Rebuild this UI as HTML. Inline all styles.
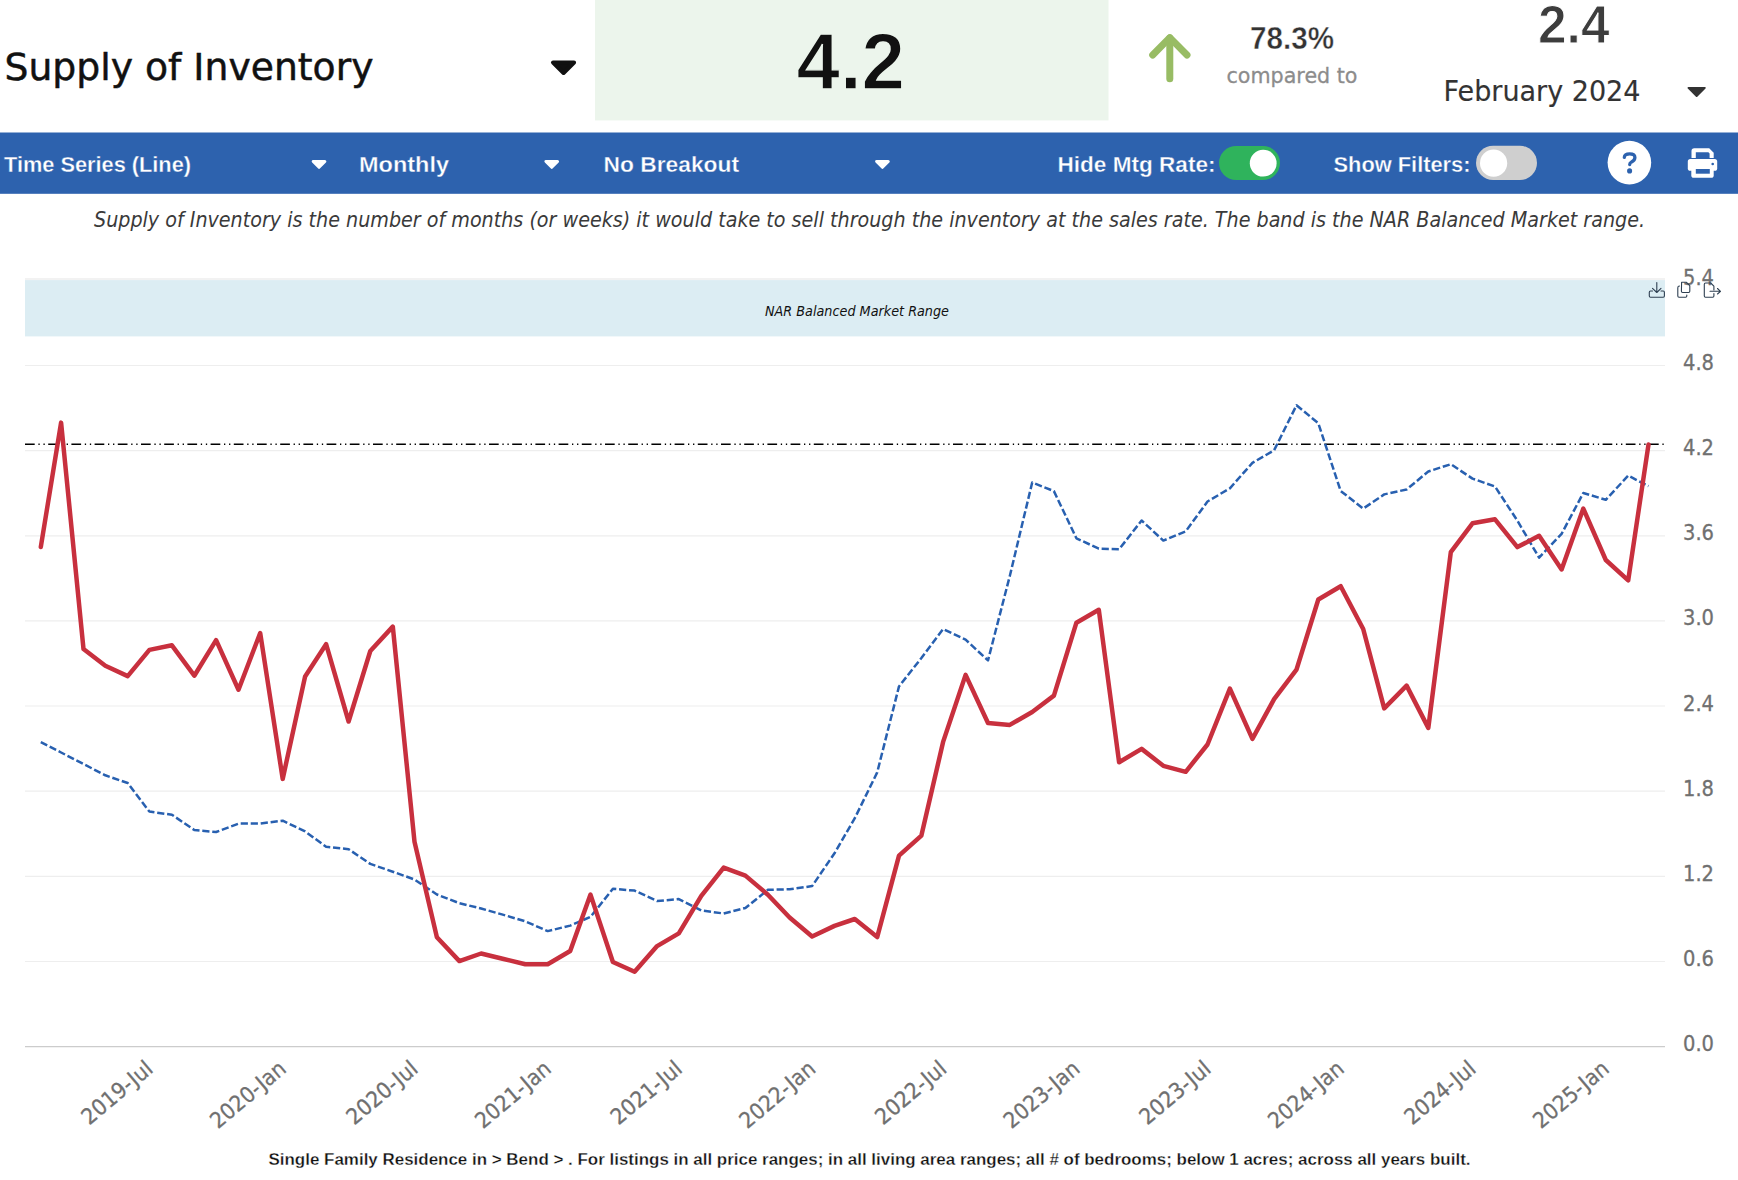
<!DOCTYPE html>
<html><head><meta charset="utf-8"><title>Supply of Inventory</title>
<style>html,body{margin:0;padding:0;background:#fff;width:1738px;height:1180px;overflow:hidden}svg{display:block;font-family:"Liberation Sans", "DejaVu Sans", sans-serif}</style>
</head><body>
<svg width="1738" height="1180" viewBox="0 0 1738 1180">
<rect width="1738" height="1180" fill="#fff"/>
<rect x="595" y="0" width="513.5" height="120.4" fill="#ecf5ec"/>
<text x="4.5" y="80" font-size="38" font-weight="400" font-style="normal" fill="#111" text-anchor="start" textLength="369" lengthAdjust="spacingAndGlyphs" font-family="'DejaVu Sans', sans-serif" stroke="#111" stroke-width="0.5">Supply of Inventory</text>
<path d="M553.05 62.45 L574.05 62.45 L563.55 72.95 Z" fill="#111" stroke="#111" stroke-width="4.10" stroke-linejoin="round"/>
<text x="796.5" y="89" font-size="79.5" font-weight="700" font-style="normal" fill="#111" text-anchor="start" textLength="108.5" lengthAdjust="spacingAndGlyphs" stroke="#ecf5ec" stroke-width="1.4">4.2</text>
<g stroke="#98bc64" stroke-width="7" stroke-linecap="round" stroke-linejoin="round" fill="none"><path d="M1169.8 38 V78.8"/><path d="M1152.7 55 L1169.8 37.6 L1187 55"/></g>
<text x="1250" y="49.2" font-size="31.5" font-weight="700" font-style="normal" fill="#333" text-anchor="start" textLength="84" lengthAdjust="spacingAndGlyphs" stroke="#fff" stroke-width="0.45">78.3%</text>
<text x="1226.5" y="82.6" font-size="22" font-weight="400" font-style="normal" fill="#8c8c8c" text-anchor="start" textLength="131" lengthAdjust="spacingAndGlyphs" font-family="'DejaVu Sans', sans-serif" stroke="#8c8c8c" stroke-width="0.3">compared to</text>
<text x="1538" y="42.5" font-size="53" font-weight="700" font-style="normal" fill="#3d3d3d" text-anchor="start" textLength="71.5" lengthAdjust="spacingAndGlyphs" stroke="#fff" stroke-width="1.0">2.4</text>
<text x="1443.5" y="100.6" font-size="27.5" font-weight="400" font-style="normal" fill="#333" text-anchor="start" textLength="197" lengthAdjust="spacingAndGlyphs" font-family="'DejaVu Sans', sans-serif" stroke="#333" stroke-width="0.15">February 2024</text>
<path d="M1688.45 87.85 L1704.85 87.85 L1696.65 96.05 Z" fill="#333" stroke="#333" stroke-width="1.90" stroke-linejoin="round"/>
<rect x="0" y="132.5" width="1738" height="61.3" fill="#2d62ae"/>
<text x="4" y="172" font-size="22.5" font-weight="700" font-style="normal" fill="#fff" text-anchor="start" textLength="187" lengthAdjust="spacingAndGlyphs" stroke="#2d62ae" stroke-width="0.35">Time Series (Line)</text>
<text x="359" y="172" font-size="22.5" font-weight="700" font-style="normal" fill="#fff" text-anchor="start" textLength="90" lengthAdjust="spacingAndGlyphs" stroke="#2d62ae" stroke-width="0.35">Monthly</text>
<text x="603.5" y="172" font-size="22.5" font-weight="700" font-style="normal" fill="#fff" text-anchor="start" textLength="135.5" lengthAdjust="spacingAndGlyphs" stroke="#2d62ae" stroke-width="0.35">No Breakout</text>
<text x="1057.5" y="172" font-size="22.5" font-weight="700" font-style="normal" fill="#fff" text-anchor="start" textLength="158" lengthAdjust="spacingAndGlyphs" stroke="#2d62ae" stroke-width="0.35">Hide Mtg Rate:</text>
<text x="1333.5" y="172" font-size="22.5" font-weight="700" font-style="normal" fill="#fff" text-anchor="start" textLength="137" lengthAdjust="spacingAndGlyphs" stroke="#2d62ae" stroke-width="0.35">Show Filters:</text>
<path d="M313.25 161.45 L324.85 161.45 L319.05 167.25 Z" fill="#fff" stroke="#fff" stroke-width="3.10" stroke-linejoin="round"/>
<path d="M545.95 161.45 L557.55 161.45 L551.75 167.25 Z" fill="#fff" stroke="#fff" stroke-width="3.10" stroke-linejoin="round"/>
<path d="M876.65 161.45 L888.25 161.45 L882.45 167.25 Z" fill="#fff" stroke="#fff" stroke-width="3.10" stroke-linejoin="round"/>
<rect x="1219" y="146" width="61" height="34" rx="17" fill="#2fb35c"/><circle cx="1263.2" cy="163.2" r="13.4" fill="#fff"/>
<rect x="1476" y="145.8" width="61" height="34.2" rx="17.1" fill="#cfcfcf"/><circle cx="1493.6" cy="163.2" r="13.6" fill="#fff"/>
<circle cx="1629.4" cy="162.6" r="21.8" fill="#fff"/>
<path d="M1624.3 157.3 Q1624.6 153.9 1629.7 153.9 Q1634.9 153.9 1634.9 157.5 Q1634.9 160.3 1631.6 161.9 Q1629.7 162.9 1629.7 164.5" fill="none" stroke="#2d62ae" stroke-width="3.3" stroke-linecap="round" stroke-linejoin="round"/><circle cx="1629.6" cy="170.9" r="2.55" fill="#2d62ae"/>
<path fill="#fff" fill-rule="evenodd" d="M1691.5 157.9 V151 Q1691.5 148.2 1694.3 148.2 H1709.2 L1713.7 152.7 V157.9 Z M1695.8 157.9 V152.2 H1708.4 L1709.6 153.4 V157.9 Z"/>
<rect x="1687.8" y="159.1" width="29.4" height="11.7" rx="2.6" fill="#fff"/><rect x="1691.3" y="165" width="22.4" height="12.8" rx="2.6" fill="#fff"/><rect x="1695.8" y="169" width="14" height="4.7" fill="#2d62ae"/><circle cx="1712.7" cy="164" r="1.3" fill="#2d62ae"/>
<text x="94" y="226.5" font-size="21" font-weight="400" font-style="italic" fill="#3a3a3a" text-anchor="start" textLength="1551" lengthAdjust="spacingAndGlyphs" font-family="'DejaVu Sans', sans-serif">Supply of Inventory is the number of months (or weeks) it would take to sell through the inventory at the sales rate. The band is the NAR Balanced Market range.</text>
<line x1="25" x2="1665" y1="961.5" y2="961.5" stroke="#eeeeee" stroke-width="1.2"/>
<line x1="25" x2="1665" y1="876.3" y2="876.3" stroke="#eeeeee" stroke-width="1.2"/>
<line x1="25" x2="1665" y1="791.2" y2="791.2" stroke="#eeeeee" stroke-width="1.2"/>
<line x1="25" x2="1665" y1="706.0" y2="706.0" stroke="#eeeeee" stroke-width="1.2"/>
<line x1="25" x2="1665" y1="620.9" y2="620.9" stroke="#eeeeee" stroke-width="1.2"/>
<line x1="25" x2="1665" y1="535.8" y2="535.8" stroke="#eeeeee" stroke-width="1.2"/>
<line x1="25" x2="1665" y1="450.6" y2="450.6" stroke="#eeeeee" stroke-width="1.2"/>
<line x1="25" x2="1665" y1="365.5" y2="365.5" stroke="#eeeeee" stroke-width="1.2"/>
<line x1="25" x2="1665" y1="1046.6" y2="1046.6" stroke="#cccccc" stroke-width="1.3"/>
<rect x="25" y="280.1" width="1640" height="56.3" fill="#dcedf3"/>
<line x1="25" x2="1665" y1="279" y2="279" stroke="#f2f2f2" stroke-width="2"/>
<text x="857" y="315.8" font-size="14.3" font-weight="400" font-style="italic" fill="#111" text-anchor="middle" textLength="184" lengthAdjust="spacingAndGlyphs" font-family="'DejaVu Sans', sans-serif">NAR Balanced Market Range</text>
<text x="1683" y="1051.1" font-size="20.5" font-weight="400" font-style="normal" fill="#707070" text-anchor="start" textLength="31" lengthAdjust="spacingAndGlyphs" font-family="'DejaVu Sans', sans-serif" stroke="#707070" stroke-width="0.3">0.0</text>
<text x="1683" y="966.0" font-size="20.5" font-weight="400" font-style="normal" fill="#707070" text-anchor="start" textLength="31" lengthAdjust="spacingAndGlyphs" font-family="'DejaVu Sans', sans-serif" stroke="#707070" stroke-width="0.3">0.6</text>
<text x="1683" y="880.8" font-size="20.5" font-weight="400" font-style="normal" fill="#707070" text-anchor="start" textLength="31" lengthAdjust="spacingAndGlyphs" font-family="'DejaVu Sans', sans-serif" stroke="#707070" stroke-width="0.3">1.2</text>
<text x="1683" y="795.7" font-size="20.5" font-weight="400" font-style="normal" fill="#707070" text-anchor="start" textLength="31" lengthAdjust="spacingAndGlyphs" font-family="'DejaVu Sans', sans-serif" stroke="#707070" stroke-width="0.3">1.8</text>
<text x="1683" y="710.5" font-size="20.5" font-weight="400" font-style="normal" fill="#707070" text-anchor="start" textLength="31" lengthAdjust="spacingAndGlyphs" font-family="'DejaVu Sans', sans-serif" stroke="#707070" stroke-width="0.3">2.4</text>
<text x="1683" y="625.4" font-size="20.5" font-weight="400" font-style="normal" fill="#707070" text-anchor="start" textLength="31" lengthAdjust="spacingAndGlyphs" font-family="'DejaVu Sans', sans-serif" stroke="#707070" stroke-width="0.3">3.0</text>
<text x="1683" y="540.3" font-size="20.5" font-weight="400" font-style="normal" fill="#707070" text-anchor="start" textLength="31" lengthAdjust="spacingAndGlyphs" font-family="'DejaVu Sans', sans-serif" stroke="#707070" stroke-width="0.3">3.6</text>
<text x="1683" y="455.1" font-size="20.5" font-weight="400" font-style="normal" fill="#707070" text-anchor="start" textLength="31" lengthAdjust="spacingAndGlyphs" font-family="'DejaVu Sans', sans-serif" stroke="#707070" stroke-width="0.3">4.2</text>
<text x="1683" y="370.0" font-size="20.5" font-weight="400" font-style="normal" fill="#707070" text-anchor="start" textLength="31" lengthAdjust="spacingAndGlyphs" font-family="'DejaVu Sans', sans-serif" stroke="#707070" stroke-width="0.3">4.8</text>
<text x="1683" y="284.8" font-size="20.5" font-weight="400" font-style="normal" fill="#707070" text-anchor="start" textLength="31" lengthAdjust="spacingAndGlyphs" font-family="'DejaVu Sans', sans-serif" stroke="#707070" stroke-width="0.3">5.4</text>
<text x="154.4" y="1071.0" font-size="22" font-family="'DejaVu Sans', sans-serif" fill="#707070" stroke="#707070" stroke-width="0.3" text-anchor="end" textLength="85" lengthAdjust="spacingAndGlyphs" transform="rotate(-40 154.4 1071.0)">2019-Jul</text>
<text x="287.6" y="1071.0" font-size="22" font-family="'DejaVu Sans', sans-serif" fill="#707070" stroke="#707070" stroke-width="0.3" text-anchor="end" textLength="91" lengthAdjust="spacingAndGlyphs" transform="rotate(-40 287.6 1071.0)">2020-Jan</text>
<text x="419.4" y="1071.0" font-size="22" font-family="'DejaVu Sans', sans-serif" fill="#707070" stroke="#707070" stroke-width="0.3" text-anchor="end" textLength="85" lengthAdjust="spacingAndGlyphs" transform="rotate(-40 419.4 1071.0)">2020-Jul</text>
<text x="552.7" y="1071.0" font-size="22" font-family="'DejaVu Sans', sans-serif" fill="#707070" stroke="#707070" stroke-width="0.3" text-anchor="end" textLength="91" lengthAdjust="spacingAndGlyphs" transform="rotate(-40 552.7 1071.0)">2021-Jan</text>
<text x="683.7" y="1071.0" font-size="22" font-family="'DejaVu Sans', sans-serif" fill="#707070" stroke="#707070" stroke-width="0.3" text-anchor="end" textLength="85" lengthAdjust="spacingAndGlyphs" transform="rotate(-40 683.7 1071.0)">2021-Jul</text>
<text x="817.0" y="1071.0" font-size="22" font-family="'DejaVu Sans', sans-serif" fill="#707070" stroke="#707070" stroke-width="0.3" text-anchor="end" textLength="91" lengthAdjust="spacingAndGlyphs" transform="rotate(-40 817.0 1071.0)">2022-Jan</text>
<text x="948.1" y="1071.0" font-size="22" font-family="'DejaVu Sans', sans-serif" fill="#707070" stroke="#707070" stroke-width="0.3" text-anchor="end" textLength="85" lengthAdjust="spacingAndGlyphs" transform="rotate(-40 948.1 1071.0)">2022-Jul</text>
<text x="1081.3" y="1071.0" font-size="22" font-family="'DejaVu Sans', sans-serif" fill="#707070" stroke="#707070" stroke-width="0.3" text-anchor="end" textLength="91" lengthAdjust="spacingAndGlyphs" transform="rotate(-40 1081.3 1071.0)">2023-Jan</text>
<text x="1212.4" y="1071.0" font-size="22" font-family="'DejaVu Sans', sans-serif" fill="#707070" stroke="#707070" stroke-width="0.3" text-anchor="end" textLength="85" lengthAdjust="spacingAndGlyphs" transform="rotate(-40 1212.4 1071.0)">2023-Jul</text>
<text x="1345.6" y="1071.0" font-size="22" font-family="'DejaVu Sans', sans-serif" fill="#707070" stroke="#707070" stroke-width="0.3" text-anchor="end" textLength="91" lengthAdjust="spacingAndGlyphs" transform="rotate(-40 1345.6 1071.0)">2024-Jan</text>
<text x="1477.4" y="1071.0" font-size="22" font-family="'DejaVu Sans', sans-serif" fill="#707070" stroke="#707070" stroke-width="0.3" text-anchor="end" textLength="85" lengthAdjust="spacingAndGlyphs" transform="rotate(-40 1477.4 1071.0)">2024-Jul</text>
<text x="1610.7" y="1071.0" font-size="22" font-family="'DejaVu Sans', sans-serif" fill="#707070" stroke="#707070" stroke-width="0.3" text-anchor="end" textLength="91" lengthAdjust="spacingAndGlyphs" transform="rotate(-40 1610.7 1071.0)">2025-Jan</text>
<line x1="25" x2="1665" y1="444.3" y2="444.3" stroke="#000" stroke-width="1.6" stroke-dasharray="9.7 3.7 1.3 3.75 1.3 3.45"/>
<polyline points="40.8,742.1 61.1,752.5 83.5,764.0 105.3,775.3 127.7,783.0 149.4,811.6 171.9,814.7 194.3,830.0 216.1,832.0 238.5,823.6 260.2,823.6 282.7,820.7 305.1,831.4 326.1,846.8 348.6,849.2 370.3,863.9 392.8,871.7 414.5,879.5 436.9,894.5 459.4,903.2 481.1,908.5 503.6,914.9 525.3,921.3 547.7,931.1 570.2,925.6 590.5,916.9 612.9,888.8 634.6,890.6 657.1,901.0 678.8,899.1 701.3,910.5 723.7,913.5 745.4,908.0 767.9,889.8 789.6,889.3 812.1,886.1 834.5,853.3 854.8,818.2 877.2,772.4 899.0,686.4 921.4,658.0 943.1,629.0 965.6,639.7 988.0,660.4 1009.8,576.0 1032.2,482.5 1053.9,491.1 1076.4,538.3 1098.8,548.7 1119.1,549.3 1141.6,520.5 1163.3,540.6 1185.7,531.4 1207.5,501.5 1229.9,488.3 1252.4,462.9 1274.1,450.3 1296.5,405.3 1318.3,423.2 1340.7,491.0 1363.2,508.6 1384.2,494.4 1406.6,489.5 1428.3,471.5 1450.8,464.2 1472.5,478.6 1495.0,486.5 1517.4,520.7 1539.1,557.7 1561.6,533.8 1583.3,493.0 1605.8,499.8 1628.2,475.6 1648.5,486.2" fill="none" stroke="#2860b0" stroke-width="2.5" stroke-dasharray="7.2 2.8" stroke-linejoin="round"/>
<polyline points="40.8,547.0 61.1,422.6 83.5,649.0 105.3,665.8 127.7,676.1 149.4,649.9 171.9,645.3 194.3,675.7 216.1,640.1 238.5,689.7 260.2,633.0 282.7,778.9 305.1,676.4 326.1,644.2 348.6,721.5 370.3,651.0 392.8,626.6 414.5,841.8 436.9,937.3 459.4,961.1 481.1,953.5 503.6,959.0 525.3,964.2 547.7,964.2 570.2,951.0 590.5,894.6 612.9,962.0 634.6,971.7 657.1,946.1 678.8,933.4 701.3,895.9 723.7,867.6 745.4,875.6 767.9,894.7 789.6,917.5 812.1,936.5 834.5,925.9 854.8,919.0 877.2,937.1 899.0,855.7 921.4,835.6 943.1,741.9 965.6,674.9 988.0,723.0 1009.8,724.9 1032.2,712.0 1053.9,695.6 1076.4,622.7 1098.8,609.8 1119.1,762.3 1141.6,748.9 1163.3,765.8 1185.7,771.8 1207.5,744.5 1229.9,688.6 1252.4,738.9 1274.1,699.2 1296.5,669.7 1318.3,599.5 1340.7,586.2 1363.2,629.0 1384.2,708.4 1406.6,685.6 1428.3,727.9 1450.8,552.2 1472.5,523.3 1495.0,519.3 1517.4,547.1 1539.1,535.8 1561.6,569.4 1583.3,508.6 1605.8,560.0 1628.2,580.3 1648.5,444.5" fill="none" stroke="#c8303e" stroke-width="4.5" stroke-linejoin="round" stroke-linecap="round"/>
<g fill="none" stroke="#2e3f51" stroke-width="1.1" stroke-linecap="round" stroke-linejoin="round"><path d="M1656.8 282.5 V292.5 M1652.5 288.3 L1656.8 292.5 L1661 288.3"/><path d="M1652.5 291 H1650.5 Q1649.3 291 1649.3 292.2 V296 Q1649.3 297.2 1650.5 297.2 H1663.2 Q1664.4 297.2 1664.4 296 V292.2 Q1664.4 291 1663.2 291 H1661"/><path d="M1681.6 282.3 H1686.5 L1689.8 285.6 V291.3 Q1689.8 292.5 1688.6 292.5 H1682.6 Q1681.4 292.5 1681.4 291.3 Z"/><path d="M1679.5 286 Q1677.8 286 1677.8 287.8 V296 Q1677.8 297.2 1679 297.2 H1685.6 Q1686.8 297.2 1686.8 296 V295"/><path d="M1710.5 283 H1705.5 Q1704.3 283 1704.3 284.2 V296 Q1704.3 297.2 1705.5 297.2 H1712.7 Q1713.9 297.2 1713.9 296 V293.5 M1713.9 290 V286.2 L1710.7 283"/><path d="M1710 291.3 H1720.5 M1717.5 288.5 L1720.5 291.3 L1717.5 294"/></g>
<text x="268.5" y="1165" font-size="17" font-weight="700" font-style="normal" fill="#111" text-anchor="start" textLength="1202" lengthAdjust="spacingAndGlyphs" stroke="#fff" stroke-width="0.3">Single Family Residence in &gt; Bend &gt; . For listings in all price ranges; in all living area ranges; all # of bedrooms; below 1 acres; across all years built.</text>
</svg>
</body></html>
